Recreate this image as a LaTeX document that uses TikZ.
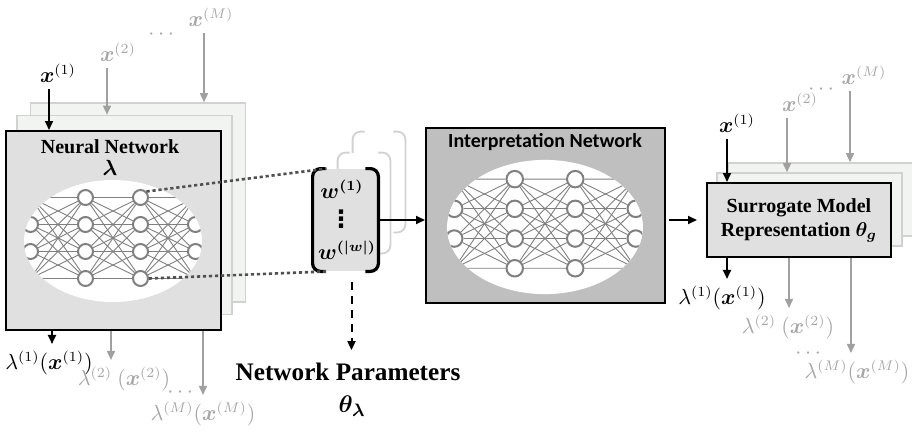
\documentclass[tikz,border=0pt]{standalone}
\usepackage{fontspec}
\setmainfont{Liberation Serif}
\newfontfamily\calibri{Carlito}
\newfontfamily\dejavu{DejaVu Sans}
\usepackage{amsmath,bm}
\usetikzlibrary{arrows.meta}
\definecolor{boxgray}{HTML}{E0E0E0}
\definecolor{darkbox}{HTML}{BFBFBF}
\definecolor{pale}{HTML}{F2F4F2}
\definecolor{paleline}{HTML}{D0D2D0}
\definecolor{txtgray}{HTML}{A6A6A6}
\definecolor{arrgray}{HTML}{A0A0A0}
\definecolor{neurgray}{HTML}{808080}
\definecolor{dotgray}{HTML}{505050}
\tikzset{
  neuron/.style={circle,draw=neurgray,line width=1pt,fill=white,minimum size=7.5pt,inner sep=0pt},
  edge/.style={draw=neurgray,line width=0.45pt},
  backbox/.style={draw=paleline,line width=0.8pt,fill=pale,inner sep=0pt},
  mainbox/.style={draw=black,line width=1pt,inner sep=0pt},
  title/.style={font=\bfseries\fontsize{10}{12}\selectfont},
  arr/.style={->,line width=1pt},
  garr/.style={->,draw=arrgray,line width=0.8pt},
  gtext/.style={text=txtgray},
  dotline/.style={draw=dotgray,line width=1.3pt,dash pattern=on 1.6pt off 1.4pt},
  wbrack/.style={line width=1.6pt,rounded corners=4pt},
  net/.pic={
    \fill[white] (0,0) ellipse [x radius=89, y radius=61];
    \begin{scope}
      \clip (0,0) ellipse [x radius=89, y radius=61];
      \foreach \i in {1,...,4}
        \foreach \j in {1,...,4}
          \node[neuron] (-n\i\j) at ({(\i-2.5)*55},{(\j-2.5)*27-3}) {};
      \foreach \i/\k in {1/2,2/3,3/4}
        \foreach \j in {1,...,4}
          \foreach \l in {1,...,4}
            \draw[edge] (-n\i\j) -- (-n\k\l);
    \end{scope}
  }
}
\begin{document}
\begin{tikzpicture}[x=0.5pt,y=-0.5pt,font=\fontsize{10.5}{12}\selectfont,
  >={Triangle[length=4.5pt,width=4pt]}]
\useasboundingbox (0,0) rectangle (912,434);

% neural network with copies
\node[backbox,minimum width=107.5pt,minimum height=99.5pt] (nnback2) at (138,202.5) {};
\node[backbox,minimum width=107.5pt,minimum height=99.5pt] (nnback1) at (124.5,215) {};
\node[mainbox,fill=boxgray,minimum width=107.5pt,minimum height=99.5pt] (nnbox) at (113.5,230.5) {};
\node[title] (nntitle) at (110,147) {Neural Network};
\node (nnlam) at (110,168) {$\bm{\lambda}$};
\pic (lnet) at (113,241) {net};

% inputs and outputs, left
\node (lx1) at (58,73) {$\bm{x}^{(1)}$};
\node[gtext] (lx2) at (118,52) {$\bm{x}^{(2)}$};
\node[gtext,inner sep=1pt] (ldots) at (163,35) {$\cdots$};
\node[gtext] (lxM) at (211,17) {$\bm{x}^{(M)}$};
\draw[arr] ([xshift=-4.5pt]lx1.south) -- ([xshift=-4.5pt]lx1.south |- nnbox.north);
\draw[garr] ([xshift=-5.5pt]lx2.south) -- ([xshift=-5.5pt]lx2.south |- nnback1.north);
\draw[garr] ([xshift=-3.5pt]lxM.south) -- ([xshift=-3.5pt]lxM.south |- nnback2.north);
\node (ly1) at (49,363) {$\lambda^{(1)}(\bm{x}^{(1)})$};
\node[gtext] (ly2) at (124,379) {$\lambda^{(2)}\ (\bm{x}^{(2)})$};
\node[gtext,inner sep=1pt] (lydots) at (182,393) {$\cdots$};
\node[gtext] (lyM) at (203,414) {$\lambda^{(M)}(\bm{x}^{(M)})$};
\draw[arr] ([xshift=1.5pt]ly1.north |- nnbox.south) -- ([xshift=1.5pt]ly1.north);
\draw[garr] ([xshift=-6.5pt]ly2.north |- nnbox.south) -- ([xshift=-6.5pt]ly2.north);
\draw[garr] (lyM.north |- nnbox.south) -- (lyM.north);

% parameter vector with copies
\node[fill=white,minimum width=26pt,minimum height=50pt,inner sep=0pt] (wback2) at (379,182) {};
\draw[wbrack,draw=paleline,line width=0.9pt] ([xshift=6pt]wback2.north west) -- (wback2.north west) -- (wback2.south west) -- ([xshift=6pt]wback2.south west);
\draw[wbrack,draw=paleline,line width=0.9pt] ([xshift=-6pt]wback2.north east) -- (wback2.north east) -- (wback2.south east) -- ([xshift=-6pt]wback2.south east);
\node[fill=white,minimum width=26pt,minimum height=50pt,inner sep=0pt] (wback1) at (364,203) {};
\draw[wbrack,draw=paleline,line width=0.9pt] ([xshift=6pt]wback1.north west) -- (wback1.north west) -- (wback1.south west) -- ([xshift=6pt]wback1.south west);
\draw[wbrack,draw=paleline,line width=0.9pt] ([xshift=-6pt]wback1.north east) -- (wback1.north east) -- (wback1.south east) -- ([xshift=-6pt]wback1.south east);
\node[fill=boxgray,minimum width=32.5pt,minimum height=51pt,inner sep=0pt] (wbox) at (345.5,220) {};
\draw[wbrack] ([xshift=6.5pt]wbox.north west) -- (wbox.north west) -- (wbox.south west) -- ([xshift=6.5pt]wbox.south west);
\draw[wbrack] ([xshift=-6.5pt]wbox.north east) -- (wbox.north east) -- (wbox.south east) -- ([xshift=-6.5pt]wbox.south east);
\node[inner sep=0pt] (w1) at (342,189) {$\bm{w^{(1)}}$};
\node[inner sep=0pt,font=\dejavu\bfseries\fontsize{12}{13}\selectfont] (wdots) at (341,219) {⋮};
\node[inner sep=0pt] (wn) at (347,250) {$\bm{w^{(|w|)}}$};
\draw[dotline] (lnet-n31.north east) -- ([xshift=7pt]wbox.north west);
\draw[dotline] (lnet-n34.east) -- ([xshift=7.5pt]wbox.south west);

\node[font=\bfseries\fontsize{12.6}{15}\selectfont] (np) at (348,372) {Network Parameters};
\node[font=\fontsize{13}{15}\selectfont] (nptheta) at (352,406) {$\bm{\theta_\lambda}$};
\draw[arr,dashed,dash pattern=on 4pt off 3pt,shorten <=5.5pt,shorten >=3pt] ([xshift=3pt]wbox.south) -- ([xshift=3pt]wbox.south |- np.north);

% interpretation network
\node[mainbox,fill=darkbox,minimum width=119.5pt,minimum height=87.5pt] (inbox) at (545.5,215.5) {};
\node[font=\calibri\bfseries\fontsize{10}{12}\selectfont] (intitle) at (545,142) {Interpretation Network};
\pic[scale=1.1,transform shape] (inet) at (545,227) {net};
\draw[arr] (wbox.east) -- (wbox.east -| inbox.west);

% surrogate model with copies
\node[backbox,minimum width=92.5pt,minimum height=36.5pt] (sback2) at (820.5,199.5) {};
\node[backbox,minimum width=92.5pt,minimum height=36.5pt] (sback1) at (809.5,209.5) {};
\node[mainbox,fill=boxgray,minimum width=92pt,minimum height=37pt,align=center,
  font=\bfseries\fontsize{10}{12}\selectfont] (sbox) at (799,220)
  {Surrogate Model\\Representation $\bm{\theta_g}$};
\draw[arr,shorten <=1.5pt,shorten >=4.5pt] (inbox.east |- sbox.west) -- (sbox.west);

% inputs and outputs, right
\node (rx1) at (737,123) {$\bm{x}^{(1)}$};
\node[gtext] (rx2) at (800,102) {$\bm{x}^{(2)}$};
\node[gtext,inner sep=1pt] (rdots) at (823,90) {$\cdots$};
\node[gtext] (rxM) at (864,75) {$\bm{x}^{(M)}$};
\draw[arr] ([xshift=-5pt]rx1.south) -- ([xshift=-5pt]rx1.south |- sbox.north);
\draw[garr] ([xshift=-6.5pt]rx2.south) -- ([xshift=-6.5pt]rx2.south |- sback1.north);
\draw[garr] ([xshift=-7pt]rxM.south) -- ([xshift=-7pt]rxM.south |- sback2.north);
\node (ry1) at (722,298) {$\lambda^{(1)}(\bm{x}^{(1)})$};
\node[gtext] (ry2) at (788,327) {$\lambda^{(2)}\ (\bm{x}^{(2)})$};
\node[gtext,inner sep=1pt] (rydots) at (810,354) {$\cdots$};
\node[gtext] (ryM) at (857,372) {$\lambda^{(M)}(\bm{x}^{(M)})$};
\draw[arr] ([xshift=2.5pt]ry1.north |- sbox.south) -- ([xshift=2.5pt]ry1.north);
\draw[garr] ([xshift=0.5pt]ry2.north |- sbox.south) -- ([xshift=0.5pt]ry2.north);
\draw[garr] ([xshift=-3pt]ryM.north |- sbox.south) -- ([xshift=-3pt]ryM.north);
\end{tikzpicture}
\end{document}
